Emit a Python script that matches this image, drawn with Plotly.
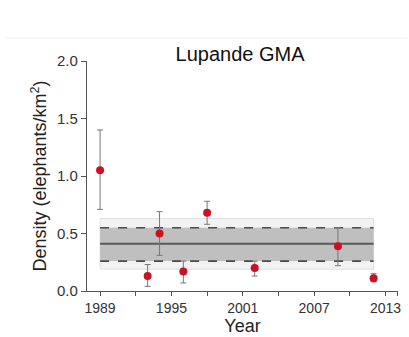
import plotly.graph_objects as go

years = [1989, 1993, 1994, 1996, 1998, 2002, 2009, 2012]
density = [1.05, 0.13, 0.50, 0.17, 0.68, 0.20, 0.39, 0.11]
upper = [1.40, 0.23, 0.69, 0.26, 0.78, 0.26, 0.55, 0.15]
lower = [0.71, 0.04, 0.31, 0.07, 0.58, 0.13, 0.22, 0.08]

band_years = [1989, 2012]
mean_density = 0.41
inner_band = [0.26, 0.55]
outer_band = [0.19, 0.63]

tick_years = [1989, 1995, 2001, 2007, 2013]
tick_labels = ["1989", "1995", "2001", "2007", "2013"]
minor_tick_years = [1992, 1998, 2004, 2010, 2014]

err_plus = [u - d for u, d in zip(upper, density)]
err_minus = [d - l for d, l in zip(density, lower)]

font_family = "Arial, Liberation Sans, sans-serif"

fig = go.Figure()

shapes = [
    dict(type="rect", xref="x", yref="y", x0=band_years[0], x1=band_years[1],
         y0=outer_band[0], y1=outer_band[1], fillcolor="#f2f2f2",
         line=dict(color="#e0e0e0", width=1), layer="below"),
    dict(type="rect", xref="x", yref="y", x0=band_years[0], x1=band_years[1],
         y0=inner_band[0], y1=inner_band[1], fillcolor="#bfbfbf",
         line=dict(width=0), layer="below"),
    dict(type="line", xref="x", yref="y", x0=band_years[0], x1=band_years[1],
         y0=inner_band[1], y1=inner_band[1], line=dict(color="#4a4a4a", width=1.6, dash="dash"), layer="below"),
    dict(type="line", xref="x", yref="y", x0=band_years[0], x1=band_years[1],
         y0=inner_band[0], y1=inner_band[0], line=dict(color="#4a4a4a", width=1.6, dash="dash"), layer="below"),
    dict(type="line", xref="x", yref="y", x0=band_years[0], x1=band_years[1],
         y0=mean_density, y1=mean_density, line=dict(color="#5a5a5a", width=2), layer="below"),
    dict(type="line", xref="paper", yref="paper", x0=-0.26, x1=1.03,
         y0=1.1, y1=1.1, line=dict(color="#eeeeee", width=1)),
]

fig.add_trace(go.Scatter(
    x=years, y=density, mode="markers",
    marker=dict(color="#cc1126", size=8),
    error_y=dict(type="data", symmetric=False, array=err_plus, arrayminus=err_minus,
                 color="#777777", thickness=1, width=3),
    showlegend=False,
))

fig.update_layout(
    width=409, height=337,
    margin=dict(l=87, r=8, t=61, b=44),
    paper_bgcolor="white", plot_bgcolor="white",
    font=dict(family=font_family, color="#333333"),
    title=dict(text="Lupande GMA", x=0.587, xanchor="center", y=0.84, yanchor="middle",
               font=dict(size=20, color="#111111", family=font_family)),
    shapes=shapes,
    xaxis=dict(range=[1987.9, 2014.05], tickmode="array", tickvals=tick_years, ticktext=tick_labels,
               showgrid=False, zeroline=False, showline=True, linecolor="#555555", linewidth=1.3,
               ticks="outside", ticklen=4, tickcolor="#555555", tickwidth=1,
               minor=dict(tickmode="array", tickvals=minor_tick_years, ticks="outside",
                          ticklen=4, tickcolor="#555555", tickwidth=1, showgrid=False),
               tickfont=dict(size=14, color="#333333"),
               title=dict(text="Year", font=dict(size=18, color="#222222"), standoff=0)),
    yaxis=dict(range=[0, 2.0], tickvals=[0, 0.5, 1.0, 1.5, 2.0],
               ticktext=["0.0", "0.5", "1.0", "1.5", "2.0"],
               showgrid=False, zeroline=False, showline=True, linecolor="#555555", linewidth=1.3,
               ticks="outside", ticklen=5, tickcolor="#555555", tickwidth=1,
               tickfont=dict(size=15, color="#333333"),
               title=dict(text="Density (elephants/km<sup>2</sup>)", font=dict(size=18, color="#222222"), standoff=5)),
)

fig.write_html("out.html")
